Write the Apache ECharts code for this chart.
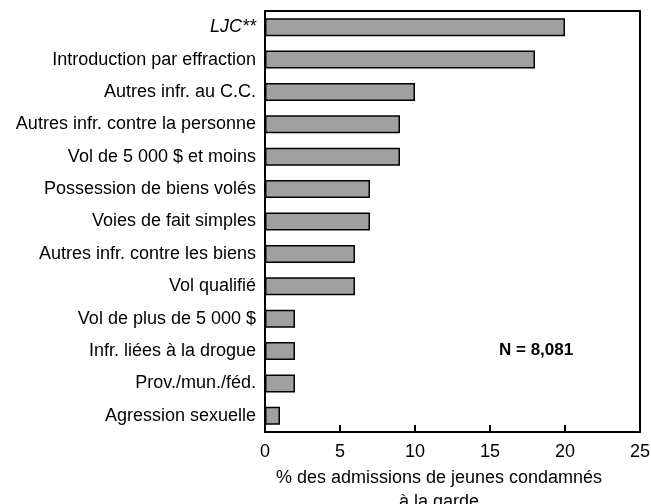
<!DOCTYPE html>
<html>
<head>
<meta charset="utf-8">
<script src="https://cdn.jsdelivr.net/npm/echarts@6/dist/echarts.min.js"></script>
<style>
  html, body { margin: 0; padding: 0; background: #fff; }
  #chart { width: 651px; height: 504px; }
</style>
</head>
<body>
<div id="chart"></div>
<script>
const categories = [
  'LJC**',
  'Introduction par effraction',
  'Autres infr. au C.C.',
  'Autres infr. contre la personne',
  'Vol de 5 000 $ et moins',
  'Possession de biens volés',
  'Voies de fait simples',
  'Autres infr. contre les biens',
  'Vol qualifié',
  'Vol de plus de 5 000 $',
  'Infr. liées à la drogue',
  'Prov./mun./féd.',
  'Agression sexuelle'
]
const values = [20, 18, 10, 9, 9, 7, 7, 6, 6, 2, 2, 2, 1]
const xTicks = [0, 5, 10, 15, 20, 25]
const axisTitle = '% des admissions de jeunes condamnés\nà la garde'
const note = 'N = 8,081'

const chart = echarts.init(document.getElementById('chart'), null, { renderer: 'canvas' })
const font = 'Liberation Sans, Arial, sans-serif'
const black = { color: '#000', width: 2 }

const option = {
  animation: false,
  textStyle: { fontFamily: font },
  grid: {
    left: 265,
    right: 11,
    top: 11,
    bottom: 72,
    outerBoundsMode: 'none',
    containLabel: false
  },
  xAxis: [{
    type: 'value',
    position: 'bottom',
    min: xTicks[0],
    max: xTicks[xTicks.length - 1],
    interval: 5,
    splitLine: { show: false },
    axisLine: { show: true, onZero: false, lineStyle: black },
    axisTick: { show: true, inside: true, length: 7, lineStyle: black },
    axisLabel: { show: true, color: '#000', fontSize: 18, margin: 11, fontFamily: font },
    name: axisTitle,
    nameLocation: 'middle',
    nameGap: 33,
    nameTextStyle: { color: '#000', fontSize: 18, lineHeight: 24, fontFamily: font, padding: [0, 27, 0, 0] }
  }, {
    type: 'value',
    position: 'top',
    min: 0,
    max: 25,
    splitLine: { show: false },
    axisLine: { show: true, onZero: false, lineStyle: black },
    axisTick: { show: false },
    axisLabel: { show: false }
  }],
  yAxis: [{
    type: 'category',
    data: categories,
    inverse: true,
    position: 'left',
    axisLine: { show: true, onZero: false, lineStyle: black },
    axisTick: { show: false },
    axisLabel: {
      color: '#000',
      fontSize: 18,
      margin: 9,
      fontFamily: font,
      formatter: (v) => v === 'LJC**' ? '{it|' + v + '}' : v,
      rich: { it: { fontStyle: 'italic', fontSize: 18, color: '#000', fontFamily: font } }
    }
  }, {
    type: 'value',
    position: 'right',
    min: 0,
    max: 1,
    splitLine: { show: false },
    axisLine: { show: true, onZero: false, lineStyle: black },
    axisTick: { show: false },
    axisLabel: { show: false }
  }],
  series: [{
    type: 'bar',
    data: values,
    barWidth: 18,
    itemStyle: { color: '#a0a0a0', borderColor: '#000', borderWidth: 1.5 }
  }],
  graphic: [{
    type: 'text',
    left: 499,
    top: 342,
    style: { text: note, fill: '#000', font: 'bold 17px ' + font }
  }]
}
chart.setOption(option)
</script>
</body>
</html>
